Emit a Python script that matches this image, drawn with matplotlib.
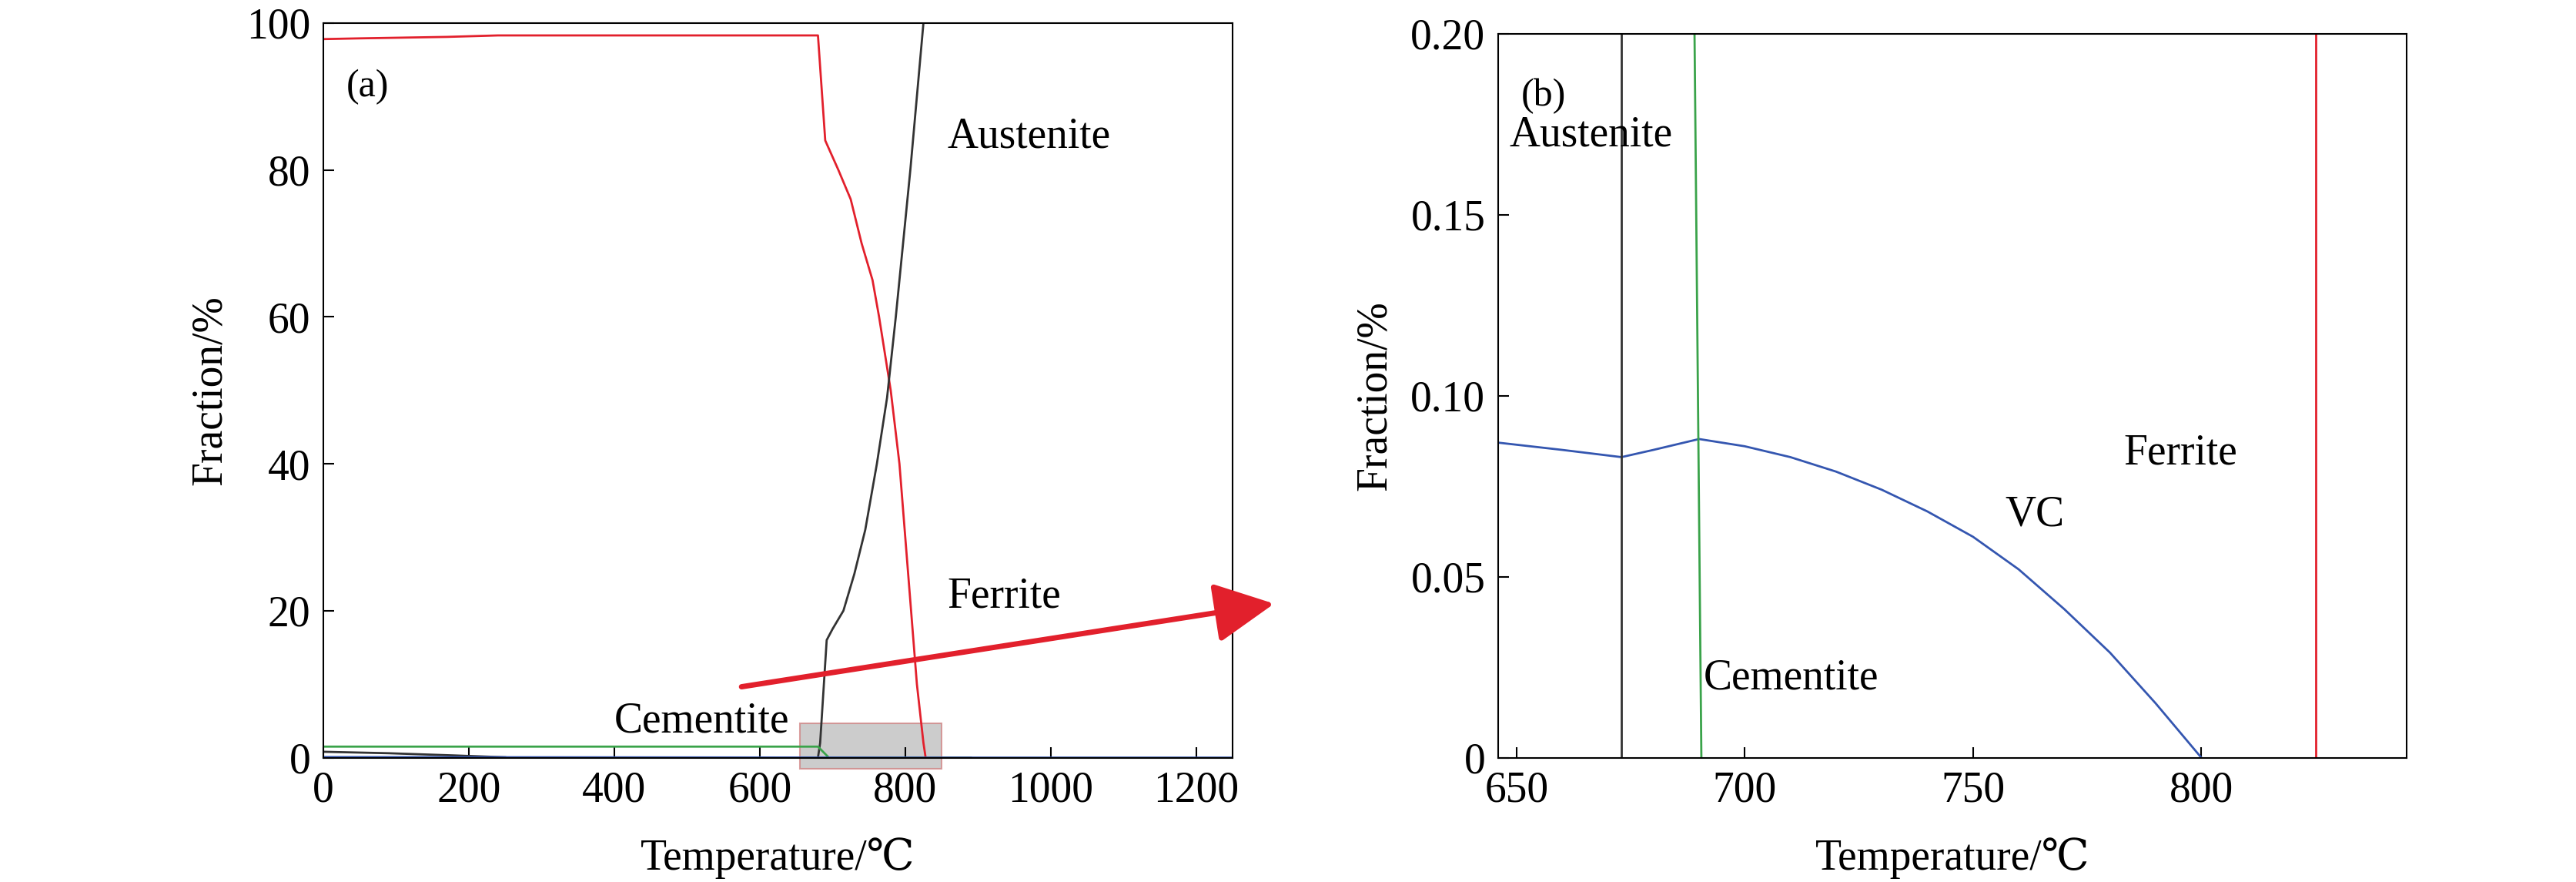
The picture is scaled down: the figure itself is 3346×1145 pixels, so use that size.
import matplotlib
matplotlib.use("Agg")
import matplotlib.pyplot as plt
from matplotlib.patches import Rectangle

plt.rcParams['font.family'] = ['Liberation Serif', 'DejaVu Serif']
plt.rcParams['font.size'] = 40

# Panel (a)
ferrite_T = [0, 50, 170, 240, 680, 690, 708, 725, 740, 755, 764, 772, 780, 792, 800, 808, 816, 825, 828, 890]
ferrite_F = [97.8, 97.9, 98.1, 98.3, 98.3, 84, 80, 76, 70, 65, 60, 55, 50, 40, 30, 20, 10, 2, 0, 0]
aust_T = [0, 680, 683, 692, 700, 715, 730, 745, 761, 775, 787, 797, 807, 816, 825]
aust_F = [0, 0, 2, 16, 17.5, 20, 25, 31, 40, 49, 60, 70, 80, 90, 100]
cem_T = [0, 680, 695, 890]
cem_F = [1.5, 1.5, 0, 0]
other_T = [0, 90, 180, 250]
other_F = [0.8, 0.6, 0.3, 0.05]
vc_a_T = [0, 800, 1250]
vc_a_F = [0.08, 0, 0]

# Panel (b)
vc_T = [646, 660, 673, 680, 690, 700, 710, 720, 730, 740, 750, 760, 770, 780, 790, 800]
vc_F = [0.087, 0.085, 0.083, 0.085, 0.088, 0.086, 0.083, 0.079, 0.074, 0.068, 0.061, 0.052, 0.041, 0.029, 0.015, 0.0]
aust_b_T = [673, 673]
cem_b_T = [689, 690.5]
fer_b_T = [825, 825]
vert_F = [0.2, 0.0]

RED = '#e2202c'; BLACK = '#333333'; GREEN = '#3aa34a'; BLUE = '#3456b0'

fig = plt.figure(figsize=(33.46, 11.45), dpi=100)
ax1 = fig.add_axes([0.1255, 0.141, 0.353, 0.833])
ax1.plot(ferrite_T, ferrite_F, color=RED, lw=2)
ax1.plot(aust_T, aust_F, color=BLACK, lw=2)
ax1.plot(cem_T, cem_F, color=GREEN, lw=2)
ax1.plot(other_T, other_F, color=BLACK, lw=2)
ax1.plot(vc_a_T, vc_a_F, color=BLUE, lw=2)
ax1.set_xlim(0, 1250); ax1.set_ylim(0, 100)
ax1.set_xticks([0, 200, 400, 600, 800, 1000, 1200])
ax1.set_yticks([0, 20, 40, 60, 80, 100])
ax1.tick_params(direction='in', length=10, width=1.5, pad=12)
ax1.set_xlabel('Temperature/℃', labelpad=25)
ax1.set_ylabel('Fraction/%', labelpad=15)
ax1.text(0.025, 0.9, '(a)', transform=ax1.transAxes, fontsize=36)
ax1.text(858, 83, 'Austenite')
ax1.text(858, 20.5, 'Ferrite')
ax1.text(400, 3.5, 'Cementite')
ax1.add_patch(Rectangle((655, -1.5), 195, 6.2, facecolor='#bbbbbb', alpha=0.75,
                        edgecolor='#d08080', lw=1.5, clip_on=False, zorder=1))
ax1.annotate('', xy=(1310, 21), xytext=(572, 9.6), annotation_clip=False,
             arrowprops=dict(arrowstyle='-|>,head_length=1.2,head_width=0.6', color=RED, lw=5))

ax2 = fig.add_axes([0.5816, 0.141, 0.3527, 0.821])
ax2.plot(vc_T, vc_F, color=BLUE, lw=2)
ax2.plot(aust_b_T, vert_F, color=BLACK, lw=2)
ax2.plot(cem_b_T, vert_F, color=GREEN, lw=2)
ax2.plot(fer_b_T, vert_F, color=RED, lw=2)
ax2.set_xlim(646, 845); ax2.set_ylim(0, 0.2)
ax2.set_xticks([650, 700, 750, 800])
ax2.set_yticks([0, 0.05, 0.10, 0.15, 0.20])
ax2.set_yticklabels(['0', '0.05', '0.10', '0.15', '0.20'])
ax2.tick_params(direction='in', length=10, width=1.5, pad=12)
ax2.set_xlabel('Temperature/℃', labelpad=25)
ax2.set_ylabel('Fraction/%', labelpad=15)
ax2.text(0.025, 0.9, '(b)', transform=ax2.transAxes, fontsize=36)
ax2.text(648.5, 0.169, 'Austenite')
ax2.text(691, 0.019, 'Cementite')
ax2.text(783, 0.081, 'Ferrite')
ax2.text(757, 0.064, 'VC')
for ax in (ax1, ax2):
    for s in ax.spines.values():
        s.set_linewidth(1.5)

fig.savefig('out.png', dpi=100)
